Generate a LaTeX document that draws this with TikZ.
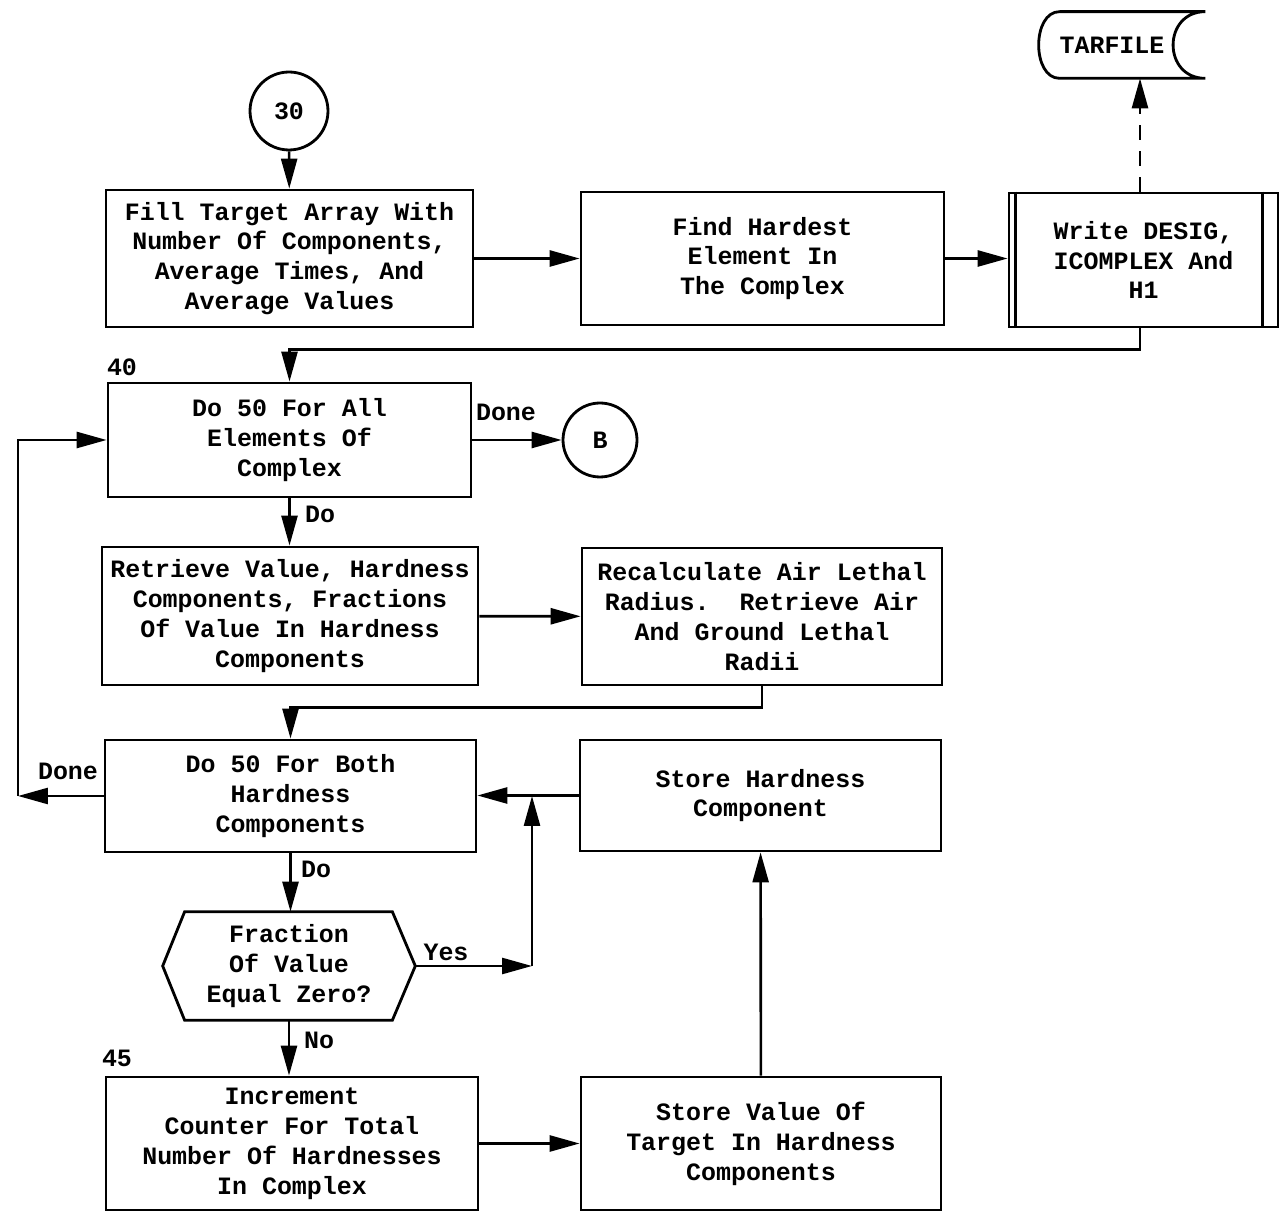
\documentclass[tikz,border=0pt]{standalone}
\usepackage{fontspec}
\setmainfont{Liberation Mono}
\usetikzlibrary{arrows.meta,calc}

\begin{document}
\begin{tikzpicture}[x=0.02cm,y=-0.02cm,
  box/.style={draw,line width=1.6pt,align=center,inner sep=0pt},
  con/.style={draw,line width=1.5pt},
  arr/.style={con,-{Triangle[length=0.6cm,width=0.32cm]}},
  lbl/.style={inner sep=0pt},
  every node/.style={font=\fontsize{14.2}{17}\selectfont\bfseries}]
\useasboundingbox (0,0) rectangle (1282,1212);

% top row
\node[box,circle,minimum size=1.56cm] (c30) at (289,111) {30};
\node[box,minimum width=7.34cm,minimum height=2.74cm] (fill) at (289.5,258.5) {Fill Target Array With\\Number Of Components,\\Average Times, And\\Average Values};
\node[box,minimum width=7.26cm,minimum height=2.66cm] (find) at (762.5,258.5) {Find Hardest\\Element In\\The Complex};
\node[box,minimum width=5.38cm,minimum height=2.68cm] (write) at (1143.5,260) {Write DESIG,\\ICOMPLEX And\\H1};
\draw[line width=1.6pt] ([xshift=0.16cm]write.north west) -- ([xshift=0.16cm]write.south west);
\draw[line width=1.6pt] ([xshift=-0.34cm]write.north east) -- ([xshift=-0.34cm]write.south east);
\node[lbl,align=center,minimum width=3.4cm,minimum height=1.32cm] (tar) at (1112,45) {TARFILE};
\draw[line width=1.6pt] ([xshift=0.16cm]tar.north east) -- ([xshift=0.66cm]tar.north west)
  .. controls ([xshift=0.1cm]tar.north west) and ([xshift=0.1cm]tar.south west) .. ([xshift=0.66cm]tar.south west)
  -- ([xshift=0.16cm]tar.south east)
  .. controls ([xshift=-0.7cm]tar.south east) and ([xshift=-0.7cm]tar.north east) .. ([xshift=0.16cm]tar.north east);

% loop over elements
\node[box,minimum width=7.26cm,minimum height=2.28cm] (doall) at (289.5,440) {Do 50 For All\\Elements Of\\Complex};
\node[box,circle,minimum size=1.48cm] (B) at (600,440) {B};
\node[box,minimum width=7.52cm,minimum height=2.76cm] (retrieve) at (290,616) {Retrieve Value, Hardness\\Components, Fractions\\Of Value In Hardness\\Components};
\node[box,minimum width=7.2cm,minimum height=2.74cm] (recalc) at (762,616.5) {Recalculate Air Lethal\\Radius.~~Retrieve Air\\And Ground Lethal\\Radii};

% loop over hardness components
\node[box,minimum width=7.42cm,minimum height=2.24cm] (both) at (290.5,796) {Do 50 For Both\\Hardness\\Components};
\node[box,minimum width=7.22cm,minimum height=2.22cm] (storehard) at (760.5,795.5) {Store Hardness\\Component};
\node[lbl,align=center,minimum width=5.04cm,minimum height=2.16cm] (frac) at (289,966) {Fraction\\Of Value\\Equal Zero?};
\draw[line width=1.6pt] (frac.west) -- ([xshift=0.44cm]frac.north west) -- ([xshift=-0.46cm]frac.north east)
  -- (frac.east) -- ([xshift=-0.46cm]frac.south east) -- ([xshift=0.44cm]frac.south west) -- cycle;
\node[box,minimum width=7.44cm,minimum height=2.66cm] (incr) at (292,1143.5) {Increment\\Counter For Total\\Number Of Hardnesses\\In Complex};
\node[box,minimum width=7.2cm,minimum height=2.66cm] (storeval) at (761,1143.5) {Store Value Of\\Target In Hardness\\Components};

% labels
\node[lbl] (l40) at (122,367) {40};
\node[lbl] (l45) at (117,1058) {45};
\node[lbl] (ldone1) at (506,412) {Done};
\node[lbl] (ldo1) at (320,514) {Do};
\node[lbl] (ldone2) at (68,771) {Done};
\node[lbl] (ldo2) at (316,869) {Do};
\node[lbl] (lyes) at (446,952) {Yes};
\node[lbl] (lno) at (319,1040) {No};

\coordinate (loopb) at (18,796);
\coordinate (loopt) at (loopb |- doall.west);
\coordinate (yesc) at (532,966);
\coordinate (yesm) at (532,796);

% connectors
\draw[arr] (c30) -- (fill);
\draw[arr] (fill) -- (find);
\draw[arr] (find.east) -- (find.east -| write.west);
\draw[arr,dash pattern=on 0.3cm off 0.22cm] ([xshift=-0.07cm]write.north) -- ([xshift=-0.07cm]write.north |- tar.south);
\draw[arr] ([xshift=-0.07cm]write.south) -- ++(0,21) -| (doall.north);
\draw[arr] (doall) -- (B);
\draw[arr] (doall.south) -- (doall.south |- retrieve.north);
\draw[arr] (retrieve) -- (recalc);
\draw[arr] (recalc.south) -- ++(0,21) -| (both.north);
\draw[arr] (both.west) -- (loopb);
\draw[arr] (loopb) -- (loopt) -- (doall.west);
\draw[arr] (both.south) -- (both.south |- frac.north);
\draw[arr] (frac.east) -- (yesc);
\draw[arr] (yesc) -- (yesm);
\draw[arr] (storehard.west) -- (storehard.west -| both.east);
\draw[arr] (frac.south) -- (frac.south |- incr.north);
\draw[arr] (incr) -- (storeval);
\draw[arr] (storeval) -- (storehard);
\end{tikzpicture}
\end{document}
